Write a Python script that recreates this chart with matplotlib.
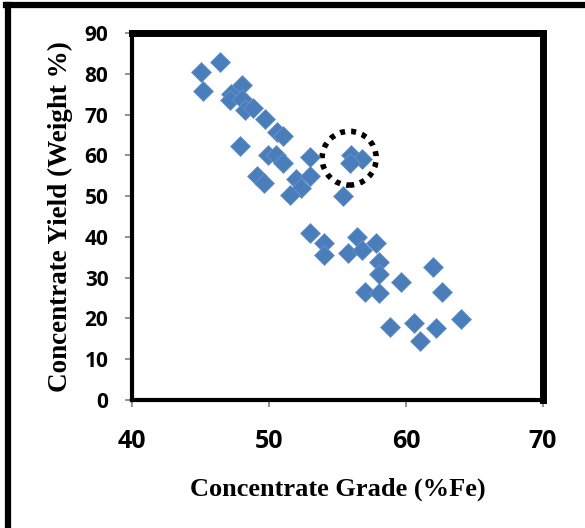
import matplotlib.pyplot as plt
from matplotlib.patches import Ellipse
from matplotlib.lines import Line2D

grade = [45.0, 46.4, 45.2, 47.2, 48.0, 47.15, 48.0, 48.25, 48.85, 49.7,
         50.6, 51.0, 47.9, 49.9, 50.5, 51.0, 53.0, 49.1, 49.6, 52.0,
         53.0, 52.3, 51.5, 55.4, 56.0, 56.8, 55.9, 53.0, 54.0, 54.0,
         56.4, 55.8, 56.8, 57.8, 58.0, 58.0, 59.6, 57.0, 58.0, 62.0,
         62.6, 58.8, 60.6, 62.2, 61.0, 64.0]
yield_pct = [80.5, 83.0, 75.8, 75.0, 77.2, 73.5, 73.9, 71.1, 71.5, 69.0,
             65.8, 64.8, 62.3, 60.0, 60.0, 58.0, 59.6, 55.0, 53.1, 54.3,
             55.0, 51.9, 50.2, 50.0, 60.0, 59.2, 58.0, 41.0, 38.4, 35.5,
             40.0, 36.0, 36.8, 38.5, 33.9, 30.8, 28.9, 26.5, 26.2, 32.5,
             26.4, 18.0, 18.8, 17.7, 14.4, 19.9]

xticks = [40, 50, 60, 70]
yticks = [0, 10, 20, 30, 40, 50, 60, 70, 80, 90]

fig = plt.figure(figsize=(5.85, 5.28), dpi=100)
ax = fig.add_axes([132 / 585, 1 - 400 / 528, 411 / 585, 367 / 528])

ax.plot(grade, yield_pct, linestyle='none', marker='D', markersize=10.5,
        markerfacecolor='#4A7EBB', markeredgecolor='#6A96CB', markeredgewidth=0.5)

# dotted circle around the highlighted group
ax.add_patch(Ellipse((55.85, 59.3), 3.95, 13.2, fill=False, edgecolor='black',
                     linewidth=4, linestyle=(0, (0.9, 1.1))))

ax.set_xlim(40, 70)
ax.set_ylim(0, 90)
ax.set_xticks(xticks)
ax.set_yticks(yticks)

for side in ['top', 'right']:
    ax.spines[side].set_linewidth(5)
    ax.spines[side].set_color('black')
for side in ['left', 'bottom']:
    ax.spines[side].set_linewidth(3)
    ax.spines[side].set_color('black')

ax.tick_params(axis='both', direction='out', length=5, width=1.2, color='#808080')
for lbl in ax.get_xticklabels():
    lbl.set_fontfamily('Open Sans')
    lbl.set_fontweight('bold')
    lbl.set_fontsize(18)
for lbl in ax.get_yticklabels():
    lbl.set_fontfamily('Open Sans')
    lbl.set_fontweight('bold')
    lbl.set_fontsize(15)
ax.tick_params(axis='x', pad=16)
ax.tick_params(axis='y', pad=12)

ax.set_xlabel('Concentrate Grade (%Fe)', family='Liberation Serif', fontweight='bold',
              fontsize=19, labelpad=17)
ax.set_ylabel('Concentrate Yield (Weight %)', family='Liberation Serif', fontweight='bold',
              fontsize=19.5, labelpad=8)

# outer frame lines (left and top)
fig.add_artist(Line2D([8 / 585, 8 / 585], [0, 1 - 5 / 528], color='black', linewidth=4.5))
fig.add_artist(Line2D([6 / 585, 1], [1 - 5 / 528, 1 - 5 / 528], color='black', linewidth=4.5))

fig.savefig('out.png', dpi=100)
